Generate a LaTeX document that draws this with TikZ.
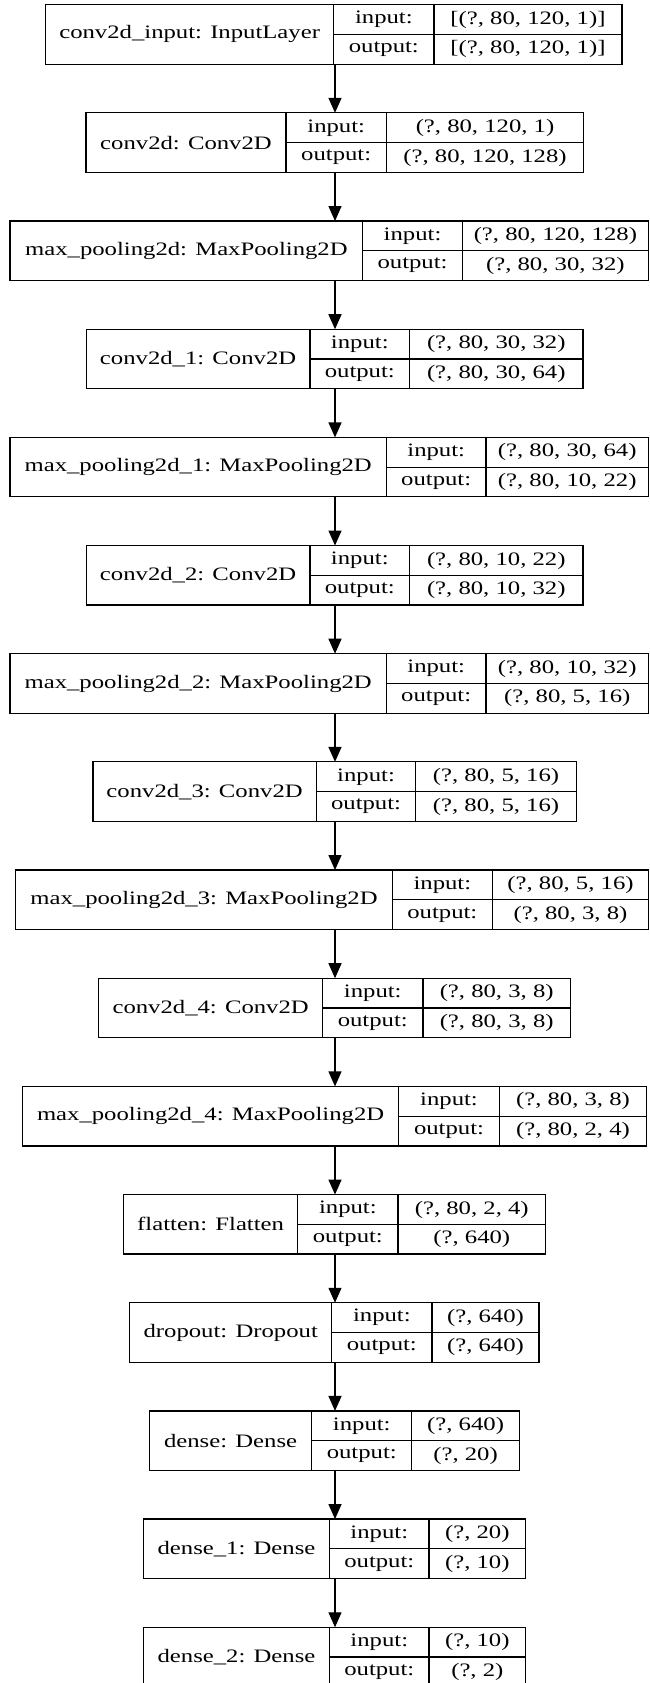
\documentclass[tikz,border=0pt]{standalone}
\usepackage{fontspec}
\setmainfont{Liberation Serif}[FakeStretch=1.3]
\usetikzlibrary{arrows.meta}
\tikzset{
  cellbox/.style={draw=black, line width=1.2pt, inner sep=0pt, outer sep=0pt, rectangle,
    font=\fontsize{19}{22}\selectfont, text=black},
  arr/.style={line width=1.3pt, -{Triangle[width=13pt,length=15pt]}}
}
\newcommand\nnlayer[9]{%
  \pgfmathsetmacro\ltop{4.7+108.17*#2}%
  \pgfmathsetmacro\lmid{\ltop+29.75}%
  \pgfmathsetmacro\wa{#4-#3}%
  \pgfmathsetmacro\wb{#5-#4}%
  \pgfmathsetmacro\wc{#6-#5}%
  \node[cellbox, anchor=north west, minimum width=\wa pt, minimum height=59.5pt] (#1-name) at (#3,\ltop) {#7};
  \node[cellbox, anchor=north west, minimum width=\wb pt, minimum height=29.75pt] (#1-in) at (#4,\ltop) {input:};
  \node[cellbox, anchor=north west, minimum width=\wb pt, minimum height=29.75pt] (#1-out) at (#4,\lmid) {output:};
  \node[cellbox, anchor=north west, minimum width=\wc pt, minimum height=29.75pt] (#1-iv) at (#5,\ltop) {#8};
  \node[cellbox, anchor=north west, minimum width=\wc pt, minimum height=29.75pt] (#1-ov) at (#5,\lmid) {#9};
}
\begin{document}
\begin{tikzpicture}[x=1pt,y=-1pt]
\fill[white] (0,0) rectangle (650,1683);
\useasboundingbox (0,0) rectangle (650,1683);
\coordinate (ax) at (335,0);
\nnlayer{L1}{0}{45.6}{333.7}{434}{622}{conv2d\_input: InputLayer}{[(?, 80, 120, 1)]}{[(?, 80, 120, 1)]}
\nnlayer{L2}{1}{86}{286}{386.4}{583.7}{conv2d: Conv2D}{(?, 80, 120, 1)}{(?, 80, 120, 128)}
\nnlayer{L3}{2}{10}{362.8}{462.3}{648.5}{max\_pooling2d: MaxPooling2D}{(?, 80, 120, 128)}{(?, 80, 30, 32)}
\nnlayer{L4}{3}{86.2}{310}{409.6}{583}{conv2d\_1: Conv2D}{(?, 80, 30, 32)}{(?, 80, 30, 64)}
\nnlayer{L5}{4}{10}{386.4}{486}{648.5}{max\_pooling2d\_1: MaxPooling2D}{(?, 80, 30, 64)}{(?, 80, 10, 22)}
\nnlayer{L6}{5}{86.2}{310}{409.6}{583}{conv2d\_2: Conv2D}{(?, 80, 10, 22)}{(?, 80, 10, 32)}
\nnlayer{L7}{6}{10}{386.4}{486}{648.5}{max\_pooling2d\_2: MaxPooling2D}{(?, 80, 10, 32)}{(?, 80, 5, 16)}
\nnlayer{L8}{7}{92.9}{316.3}{415.8}{576.3}{conv2d\_3: Conv2D}{(?, 80, 5, 16)}{(?, 80, 5, 16)}
\nnlayer{L9}{8}{15.8}{392.2}{492.5}{648.5}{max\_pooling2d\_3: MaxPooling2D}{(?, 80, 5, 16)}{(?, 80, 3, 8)}
\nnlayer{L10}{9}{98.7}{322.6}{422.9}{570.5}{conv2d\_4: Conv2D}{(?, 80, 3, 8)}{(?, 80, 3, 8)}
\nnlayer{L11}{10}{22.4}{398.8}{499.2}{646.8}{max\_pooling2d\_4: MaxPooling2D}{(?, 80, 3, 8)}{(?, 80, 2, 4)}
\nnlayer{L12}{11}{123.5}{297.7}{398}{545.6}{flatten: Flatten}{(?, 80, 2, 4)}{(?, 640)}
\nnlayer{L13}{12}{129.8}{331.7}{432}{539}{dropout: Dropout}{(?, 640)}{(?, 640)}
\nnlayer{L14}{13}{149.3}{311.8}{411.7}{519.5}{dense: Dense}{(?, 640)}{(?, 20)}
\nnlayer{L15}{14}{143.4}{329.6}{429}{525.7}{dense\_1: Dense}{(?, 20)}{(?, 10)}
\nnlayer{L16}{15}{143.4}{329.6}{429}{525.7}{dense\_2: Dense}{(?, 10)}{(?, 2)}
\foreach \a/\b in {1/2,2/3,3/4,4/5,5/6,6/7,7/8,8/9,9/10,10/11,11/12,12/13,13/14,14/15,15/16}{
  \draw[arr] (L\a-name.south -| ax) -- (L\b-name.north -| ax);
}
\end{tikzpicture}
\end{document}
